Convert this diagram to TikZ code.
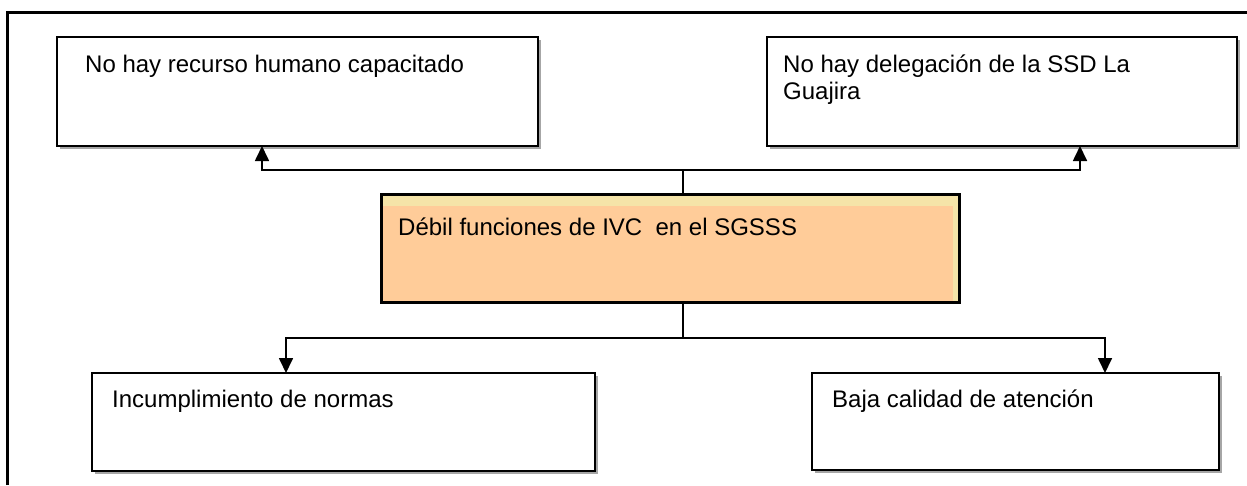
\documentclass[tikz,border=0pt]{standalone}
\usepackage{fontspec}
\setmainfont{Liberation Sans}
\usetikzlibrary{arrows.meta,fit,shadows}
\definecolor{peach}{HTML}{FFCC99}
\definecolor{paleyellow}{HTML}{F5E4A8}
\tikzset{
  box/.style={draw=black, line width=2pt, fill=white, inner sep=0pt,
    drop shadow={shadow xshift=2.5pt, shadow yshift=-2.5pt, fill=gray!70, opacity=1}},
  cbox/.style={draw=black, line width=2pt, fill=paleyellow, inner sep=0pt,
    drop shadow={shadow xshift=2pt, shadow yshift=-2pt, fill=black!70, opacity=1}},
  txt/.style={inner sep=0pt, anchor=base west, font=\fontsize{24}{27}\selectfont},
  conn/.style={line width=1.7pt, line join=miter},
  arr/.style={conn, -{Triangle[width=14pt,length=15pt]}},
  frame/.style={line width=3pt}
}
\begin{document}
\begin{tikzpicture}[x=1pt,y=-1pt]
\useasboundingbox (0,0) rectangle (1247,485);
% outer frame (cropped)
\coordinate (fb) at (7,485);
\coordinate (ft) at (7,12);
\coordinate (fr) at (1247,12);
\draw[frame] (fb) -- (ft) -- (fr);

% boxes
\node[box, fit={(57,37) (538,146)}] (tl) {};
\node[box, fit={(767,37) (1237,146)}] (tr) {};
\node[cbox, fit={(382,195) (959,302)}] (c) {};
\fill[peach] (383,206) rectangle (953,301);
\draw[line width=2pt] (c.north west) rectangle (c.south east);
\node[box, fit={(92,373) (595,471)}] (bl) {};
\node[box, fit={(812,373) (1219,470)}] (br) {};

% texts
\node[txt] (tlt) at (85,72) {No hay recurso humano capacitado};
\node[txt] (trt1) at (783,72) {No hay delegación de la SSD La};
\node[txt] (trt2) at (783,99) {Guajira};
\node[txt] (ct) at (398,235) {Débil funciones de IVC\ \ en el SGSSS};
\node[txt] (blt) at (112,407) {Incumplimiento de normas};
\node[txt] (brt) at (832,407) {Baja calidad de atención};

% connectors up
\coordinate (jt) at (683,170);
\coordinate (atl) at (262,146);
\coordinate (atr) at (1080,146);
\draw[conn] (c.north -| jt) -- (jt);
\draw[arr] (jt) -| (atl);
\draw[arr] (jt) -| (atr);

% connectors down
\coordinate (jb) at (683,338);
\coordinate (abl) at (286,373);
\coordinate (abr) at (1105,373);
\draw[conn] (c.south -| jb) -- (jb);
\draw[arr] (jb) -| (abl);
\draw[arr] (jb) -| (abr);
\end{tikzpicture}
\end{document}
